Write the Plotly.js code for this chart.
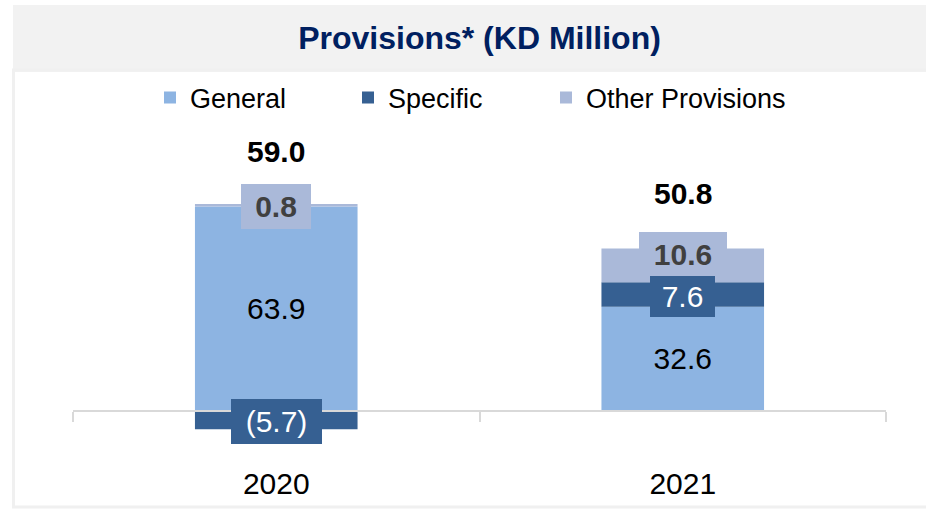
<!DOCTYPE html>
<html>
<head>
<meta charset="utf-8">
<script src="https://cdn.plot.ly/plotly-3.0.1.min.js"></script>
<style>html,body{margin:0;padding:0;background:#fff;}#chart{width:926px;height:509px;}</style>
</head>
<body>
<div id="chart"></div>
<script>
// ---- data ----
const categories = ['2020', '2021'];
const general = [63.9, 32.6];
const specific = [-5.7, 7.6];
const other = [0.8, 10.6];
const seriesNames = ['General', 'Specific', 'Other Provisions'];
const chartTitle = 'Provisions* (KD Million)';

// ---- style ----
const colGeneral = '#8DB4E2';
const colSpecific = '#366092';
const colOther = '#AAB9D9';
const FONT = 'Arial, "Liberation Sans", sans-serif';
const W = 926, H = 509;
const M = {l: 73, r: 40, t: 130, b: 59};
const baselinePx = 411, pxPerUnit = 3.2;
const plotH = H - M.t - M.b, plotW = W - M.l - M.r;
const yRange = [-(H - M.b - baselinePx) / pxPerUnit, (baselinePx - M.t) / pxPerUnit];
const specBoxW = [91, 65], specBoxH = [45, 41], specShift = [-1, -2];
const otherBoxW = [70, 88], otherBoxH = [45, 45], otherShift = [-1, 11];
const legendLeftPx = [150, 348, 546];
const labelSize = 30;

function fmt(v) { return v < 0 ? '(' + Math.abs(v).toFixed(1) + ')' : v.toFixed(1); }
const px2fx = x => (x - M.l) / plotW;
const px2fy = y => (H - M.b - y) / plotH;

const traces = [
  {type: 'bar', name: seriesNames[0], x: categories, y: general, marker: {color: colGeneral}, legend: 'legend',
   text: general.map(fmt), textposition: 'inside', insidetextanchor: 'middle',
   textfont: {family: FONT, size: labelSize, color: '#000'}, constraintext: 'none', cliponaxis: false, hoverinfo: 'skip'},
  {type: 'bar', name: seriesNames[1], x: categories, y: specific, marker: {color: colSpecific}, legend: 'legend2',
   textposition: 'none', cliponaxis: false, hoverinfo: 'skip'},
  {type: 'bar', name: seriesNames[2], x: categories, y: other, marker: {color: colOther}, legend: 'legend3',
   textposition: 'none', cliponaxis: false, hoverinfo: 'skip'}
];

// stacking positions (relative mode)
const annotations = [];
categories.forEach((c, i) => {
  let pos = 0, neg = 0;
  const mid = {};
  [['g', general[i]], ['s', specific[i]], ['o', other[i]]].forEach(([k, v]) => {
    if (v >= 0) { mid[k] = pos + v / 2; pos += v; } else { mid[k] = neg + v / 2; neg += v; }
  });
  annotations.push({x: i, y: mid.o, xref: 'x', yref: 'y', text: '<b>' + fmt(other[i]) + '</b>', showarrow: false,
    bgcolor: colOther, width: otherBoxW[i], height: otherBoxH[i], borderpad: 0, borderwidth: 0,
    yshift: otherShift[i], font: {family: FONT, size: labelSize, color: '#404040'}});
  annotations.push({x: i, y: mid.s, xref: 'x', yref: 'y', text: fmt(specific[i]), showarrow: false,
    bgcolor: colSpecific, width: specBoxW[i], height: specBoxH[i], borderpad: 0, borderwidth: 0,
    yshift: specShift[i], font: {family: FONT, size: labelSize, color: '#FFFFFF'}});
  const total = general[i] + specific[i] + other[i];
  annotations.push({x: i, y: pos, xref: 'x', yref: 'y', text: '<b>' + fmt(total) + '</b>', showarrow: false,
    yanchor: 'middle', yshift: (i === 0 ? 52 : 55), font: {family: FONT, size: labelSize, color: '#000'}});
});

function legendAt(k) {
  return {orientation: 'h', x: px2fx(legendLeftPx[k]), xanchor: 'left', yref: 'container', y: 1 - 98 / H, yanchor: 'middle',
          font: {family: FONT, size: 27, color: '#000'}, bgcolor: 'rgba(0,0,0,0)', borderwidth: 0};
}

const layout = {
  width: W, height: H,
  margin: M,
  paper_bgcolor: '#FFFFFF', plot_bgcolor: 'rgba(0,0,0,0)',
  font: {family: FONT, color: '#000'},
  title: {text: '<b>' + chartTitle + '</b>', font: {family: FONT, size: 32, color: '#002060'},
          xref: 'paper', x: 0.5, xanchor: 'center', yref: 'container', y: 1 - 38 / H, yanchor: 'middle'},
  barmode: 'relative', bargap: 0.6,
  showlegend: true,
  legend: legendAt(0), legend2: legendAt(1), legend3: legendAt(2),
  xaxis: {type: 'category', range: [-0.5, 1.5], anchor: 'free', position: px2fy(baselinePx),
          showline: true, linecolor: '#D9D9D9', linewidth: 2, ticks: 'outside', tickson: 'boundaries',
          ticklen: 10, tickwidth: 2, tickcolor: '#D9D9D9', showgrid: false, zeroline: false,
          tickfont: {family: FONT, size: 30, color: '#000'}, ticklabelstandoff: 46, fixedrange: true},
  yaxis: {range: yRange, visible: false, showgrid: false, zeroline: false, fixedrange: true},
  annotations: annotations,
  shapes: [
    {type: 'rect', xref: 'paper', yref: 'paper', x0: px2fx(13), x1: px2fx(930), y0: px2fy(72), y1: px2fy(5),
     fillcolor: '#F2F2F2', line: {width: 0}, layer: 'below'},
    {type: 'rect', xref: 'paper', yref: 'paper', x0: px2fx(13.5), x1: px2fx(935), y0: px2fy(507), y1: px2fy(70),
     fillcolor: 'rgba(0,0,0,0)', line: {width: 3, color: '#F0F0F0'}, layer: 'below'}
  ]
};

Plotly.newPlot('chart', traces, layout, {displayModeBar: false, staticPlot: true});
</script>
</body>
</html>
